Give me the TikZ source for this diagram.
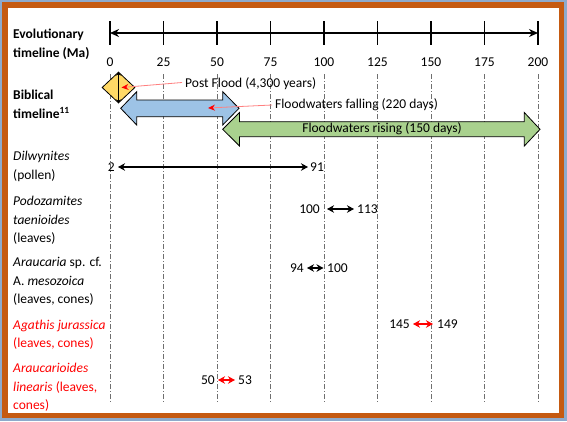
\documentclass[tikz,border=0pt]{standalone}
\usepackage{fontspec}
\setmainfont{Carlito}
\usetikzlibrary{arrows.meta,shapes.geometric}
\definecolor{frameblue}{HTML}{8EAACB}
\definecolor{frameorange}{HTML}{C55A11}
\definecolor{arrblue}{HTML}{9DC3E6}
\definecolor{arrgreen}{HTML}{A9D18E}
\definecolor{diamyellow}{HTML}{FFD966}
\definecolor{pointred}{HTML}{FF8080}
\definecolor{gridgray}{HTML}{6F6F6F}
\newcommand\fs{\fontsize{13.5}{18.5}\selectfont}
\begin{document}
\begin{tikzpicture}[x=1pt,y=-1pt,
  every node/.style={inner sep=0pt, font=\fs},
  lbl/.style={anchor=west, align=left},
  rng/.style={line width=1.6pt, {Stealth[length=7pt,width=7.5pt]}-{Stealth[length=7pt,width=7.5pt]}},
  rngred/.style={rng, red, line width=2pt},
  vgrid/.style={gridgray, line width=0.9pt, dash pattern=on 5pt off 2pt on 1pt off 2pt},
  pointer/.style={pointred, line width=0.8pt, -{Stealth[length=7pt,width=6pt,color=red]}},
  blockarrow/.style={draw=black, line width=0.8pt, line join=miter}
]
\useasboundingbox (0,0) rectangle (567,421);
% frame
\fill[frameblue] (0,0) rectangle (567,421);
\fill[frameorange] (2,2) rectangle (563.5,418);
\fill[white] (8,8) rectangle (559,412.5);

% grid, ticks, tick labels
\foreach \i/\v in {0/0,1/25,2/50,3/75,4/100,5/125,6/150,7/175,8/200}{
  \draw[vgrid] ({110+53.5*\i},74) -- ({110+53.5*\i},402);
  \draw[line width=1.2pt] ({110+53.5*\i},21) -- ({110+53.5*\i},45);
  \node (t\i) at ({110+53.5*\i},62) {\v};
}
\coordinate (axL) at (110,33);
\coordinate (axR) at (538,33);
\draw[line width=1.5pt, {Stealth[length=9pt,width=8pt]}-{Stealth[length=9pt,width=8pt]}] (axL) -- (axR);

% left labels
\node[lbl, font=\fontsize{13.5}{19}\selectfont\bfseries] (evo) at (13,44) {Evolutionary\\timeline (Ma)};
\node[lbl, font=\fontsize{13.5}{19}\selectfont\bfseries] (bib) at (13,104.5) {Biblical\\timeline\textsuperscript{11}};
\node[lbl] (dil) at (13,166.5) {\textit{Dilwynites}\\(pollen)};
\node[lbl] (pod) at (13,220.5) {\textit{Podozamites}\\\textit{taenioides}\\(leaves)};
\node[lbl] (ara) at (13,281.5) {\textit{Araucaria} sp. cf.\\A. \textit{mesozoica}\\(leaves, cones)};
\node[lbl, text=red] (aga) at (13,334.5) {\textit{Agathis jurassica}\\(leaves, cones)};
\node[lbl, text=red] (arl) at (13,387.5) {\textit{Araucarioides}\\\textit{linearis} (leaves,\\cones)};

% biblical timeline
\node[diamond, draw=black, line width=0.8pt, fill=diamyellow, minimum width=33pt, minimum height=31pt] (diam) at (118.5,87.5) {};
\draw[line width=1.2pt, {Stealth[length=4pt,width=5pt]}-{Stealth[length=4pt,width=5pt]}] (diam.north) -- (diam.south);

\draw[blockarrow, fill=arrgreen] (222.7,129.3) -- (239.5,112.5) -- (239.5,121.7) -- (524.3,121.7) -- (524.3,112.5) -- (540,129.3) -- (524.3,146) -- (524.3,136.7) -- (239.5,136.7) -- (239.5,146) -- cycle;
\node (rise) at (382,129) {Floodwaters rising (150 days)};

\draw[blockarrow, fill=arrblue] (120.7,108.3) -- (136.7,91.7) -- (136.7,100) -- (222.7,100) -- (222.7,91.7) -- (239,108.3) -- (222.7,125) -- (222.7,116.7) -- (136.7,116.7) -- (136.7,125) -- cycle;

\node[anchor=west] (post) at (185,83.5) {Post Flood (4,300 years)};
\draw[pointer] ([xshift=-3pt,yshift=1pt]post.west) -- ([xshift=3pt]diam.center);

\node[anchor=west] (fall) at (275,105) {Floodwaters falling (220 days)};
\coordinate (fallpt) at (208,108);
\draw[pointer] ([xshift=-3pt]fall.west) -- (fallpt);

% ranges
\node[anchor=east] (d2) at (115,167) {2};
\node[anchor=west] (d91) at (310,167) {91};
\draw[rng] ([xshift=3pt]d2.east) -- ([xshift=-2pt]d91.west);

\node[anchor=east] (p100) at (320,209) {100};
\node[anchor=west] (p113) at (357,209) {113};
\draw[rng] ([xshift=7pt]p100.east) -- ([xshift=-3pt]p113.west);

\node[anchor=east] (a94) at (304,268) {94};
\node[anchor=west] (a100) at (327,268) {100};
\draw[rng] ([xshift=3pt]a94.east) -- ([xshift=-3.5pt]a100.west);

\node[anchor=east] (g145) at (410,324) {145};
\node[anchor=west] (g149) at (437,324) {149};
\draw[rngred] ([xshift=3pt]g145.east) -- ([xshift=-4pt]g149.west);

\node[anchor=east] (r50) at (215,380) {50};
\node[anchor=west] (r53) at (238,380) {53};
\draw[rngred] ([xshift=3pt]r50.east) -- ([xshift=-3pt]r53.west);
\end{tikzpicture}
\end{document}
